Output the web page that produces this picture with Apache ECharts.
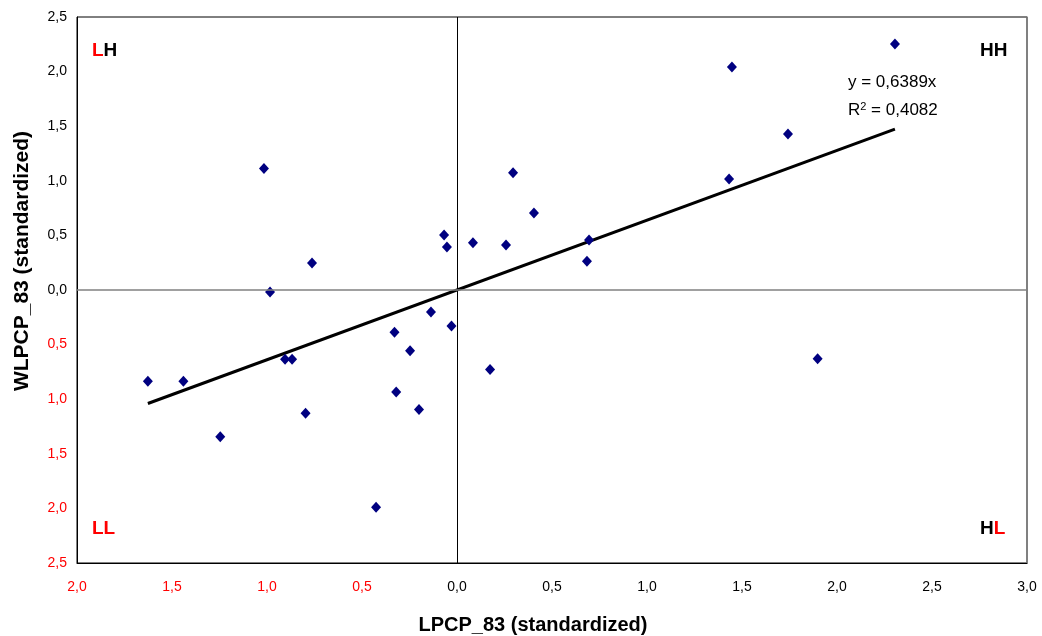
<!DOCTYPE html>
<html><head><meta charset="utf-8">
<script src="https://cdn.jsdelivr.net/npm/echarts@6/dist/echarts.min.js"></script>
<style>html,body{margin:0;padding:0;background:#fff}#c{width:1042px;height:636px}</style>
</head><body><div id="c"></div>
<script>
// Data
const xValues = [2.305, 1.447, 1.742, 1.432, 0.295, 0.405, -0.068, -0.053, 0.084, 0.258, 0.695, 0.684,
  -1.016, -0.763, -0.984, -0.137, -0.029, -0.329, -0.247, -0.905, -0.868, 0.174, 1.898,
  -1.627, -1.440, -0.320, -0.797, -0.200, -1.246, -0.426];
const yValues = [2.253, 2.042, 1.429, 1.016, 1.073, 0.705, 0.504, 0.394, 0.432, 0.411, 0.458, 0.263,
  1.112, 0.247, -0.018, -0.201, -0.330, -0.386, -0.556, -0.635, -0.635, -0.727, -0.630,
  -0.835, -0.835, -0.934, -1.129, -1.094, -1.343, -1.990];
const slope = 0.6389;
const r2 = 0.4082;
const xTicks = {min: -2, max: 3, step: 0.5};
const yTicks = {min: -2.5, max: 2.5, step: 0.5};

const pts = xValues.map((x, i) => [x, yValues[i]]);
const xmin = Math.min(...xValues), xmax = Math.max(...xValues);
const trend = [[xmin, slope * xmin], [xmax, slope * xmax]];
const fmt = v => Math.abs(v).toFixed(1).replace('.', ',');
const col = v => v < 0 ? '#ff0000' : '#000000';
const FONT = 'Liberation Sans, Arial, sans-serif';

const chart = echarts.init(document.getElementById('c'));
chart.setOption({
  animation: false,
  grid: {left: 77, right: 15, top: 17, bottom: 73, containLabel: false, outerBoundsMode: 'none',
    show: true, borderColor: '#000', borderWidth: 1, backgroundColor: 'transparent'},
  xAxis: [{
    type: 'value', min: xTicks.min, max: xTicks.max, interval: xTicks.step,
    axisLine: {onZero: false, lineStyle: {color: '#000', width: 1}},
    axisTick: {show: false}, splitLine: {show: false},
    axisLabel: {formatter: fmt, color: col, fontSize: 14, fontFamily: FONT, margin: 17},
    name: 'LPCP_83 (standardized)', nameLocation: 'middle', nameGap: 52, nameMoveOverlap: false,
    nameTextStyle: {fontSize: 20, fontWeight: 'bold', fontFamily: FONT, color: '#000', padding: [0, 38, 0, 0]}
  }],
  yAxis: [{
    type: 'value', min: yTicks.min, max: yTicks.max, interval: yTicks.step,
    axisLine: {onZero: false, show: true, lineStyle: {color: '#000', width: 1}},
    axisTick: {show: false}, splitLine: {show: false},
    axisLabel: {formatter: fmt, color: col, fontSize: 14, fontFamily: FONT, margin: 10},
    name: 'WLPCP_83 (standardized)', nameLocation: 'middle', nameGap: 44, nameMoveOverlap: false,
    nameTextStyle: {fontSize: 21, fontWeight: 'bold', fontFamily: FONT, color: '#000', padding: [0, 0, 0, 58]}
  }, {
    type: 'value', position: 'right', min: yTicks.min, max: yTicks.max,
    axisLine: {show: true, onZero: false, lineStyle: {color: '#808080', width: 1.5}}, axisTick: {show: false},
    axisLabel: {show: false}, splitLine: {show: false}
  }],
  series: [{
    type: 'line', data: trend, symbol: 'none', silent: true,
    lineStyle: {color: '#000', width: 3}, z: 3,
    markLine: {
      silent: true, symbol: 'none', label: {show: false}, animation: false,
      data: [
        {xAxis: 0, lineStyle: {color: '#000', width: 1, type: 'solid'}},
        {yAxis: 0, lineStyle: {color: '#808080', width: 1.5, type: 'solid'}}
      ]
    }
  }, {
    type: 'scatter', data: pts, symbol: 'diamond', symbolSize: [10, 11],
    itemStyle: {color: '#000080', opacity: 1}, z: 4
  }],
  graphic: [
    {type: 'text', left: 92, top: 41, style: {rich: {r: {fill: '#ff0000', fontSize: 19, fontWeight: 'bold', fontFamily: FONT}, k: {fill: '#000', fontSize: 19, fontWeight: 'bold', fontFamily: FONT}}, text: '{r|L}{k|H}'}},
    {type: 'text', left: 980, top: 41, style: {text: 'HH', fill: '#000', fontSize: 19, fontWeight: 'bold', fontFamily: FONT}},
    {type: 'text', left: 92, top: 519, style: {text: 'LL', fill: '#ff0000', fontSize: 19, fontWeight: 'bold', fontFamily: FONT}},
    {type: 'text', left: 980, top: 519, style: {rich: {r: {fill: '#ff0000', fontSize: 19, fontWeight: 'bold', fontFamily: FONT}, k: {fill: '#000', fontSize: 19, fontWeight: 'bold', fontFamily: FONT}}, text: '{k|H}{r|L}'}},
    {type: 'text', left: 848, top: 74, style: {text: 'y = ' + slope.toFixed(4).replace('.', ',') + 'x', fill: '#000', fontSize: 17, fontFamily: FONT}},
    {type: 'text', left: 848, top: 101, style: {rich: {n: {fontSize: 17, fontFamily: FONT, fill: '#000'}, s: {fontSize: 11, fontFamily: FONT, fill: '#000', verticalAlign: 'top', padding: [0, 0, 8, 0]}}, text: '{n|R}{s|2}{n| = ' + r2.toFixed(4).replace('.', ',') + '}'}}
  ]
});
</script></body></html>
